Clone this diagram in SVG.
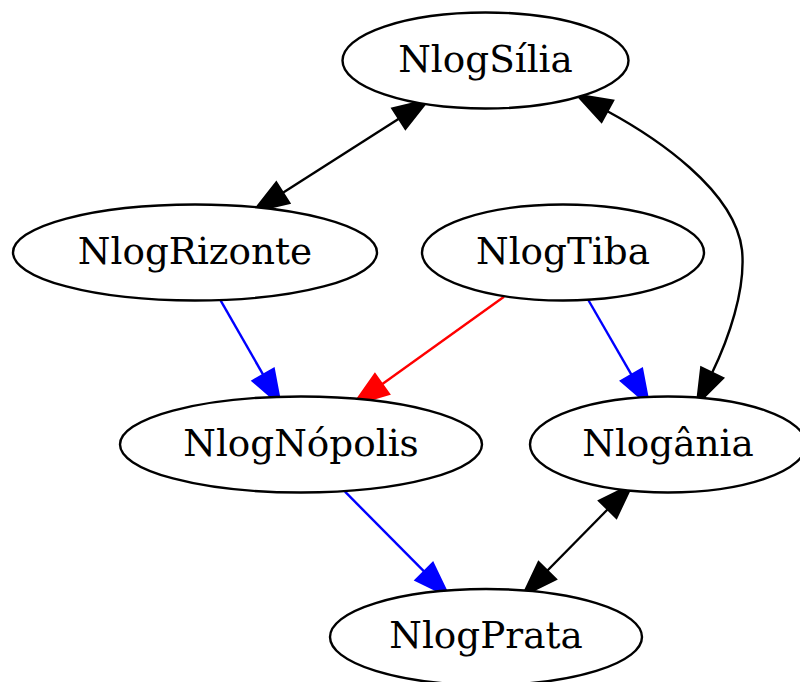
<svg xmlns="http://www.w3.org/2000/svg" width="800" height="682" viewBox="0 0 800 682">
<style>
.node ellipse{fill:#fff;stroke:#000;stroke-width:2.4}
.node text{font-family:"DejaVu Serif",serif;font-size:37.33px;text-anchor:middle;fill:#000}
.edge{fill:none;stroke-width:2.4}
.kk{stroke:#000;marker-start:url(#ak);marker-end:url(#ak)}
.b{stroke:#0000ff;marker-end:url(#ab)}
.r{stroke:#ff0000;marker-end:url(#ar)}
</style>
<defs>
<marker id="ak" markerUnits="userSpaceOnUse" orient="auto-start-reverse" refX="0" refY="0" markerWidth="40" markerHeight="40" viewBox="-2 -12 32 24" style="overflow:visible"><path d="M0,-9.3 L26.7,0 L0,9.3 Z" fill="#000" stroke="#000" stroke-width="2.4"/></marker>
<marker id="ab" markerUnits="userSpaceOnUse" orient="auto-start-reverse" refX="0" refY="0" markerWidth="40" markerHeight="40" viewBox="-2 -12 32 24" style="overflow:visible"><path d="M0,-9.3 L26.7,0 L0,9.3 Z" fill="#0000ff" stroke="#0000ff" stroke-width="2.4"/></marker>
<marker id="ar" markerUnits="userSpaceOnUse" orient="auto-start-reverse" refX="0" refY="0" markerWidth="40" markerHeight="40" viewBox="-2 -12 32 24" style="overflow:visible"><path d="M0,-9.3 L26.7,0 L0,9.3 Z" fill="#ff0000" stroke="#ff0000" stroke-width="2.4"/></marker>
</defs>
<rect width="800" height="682" fill="#fff"/>
<g id="edges">
<path class="edge kk" d="M399.2,118.4 L282.5,192.9"/>
<path class="edge kk" d="M607,111 C655,137 735,190 742,250 C746,290 728,340 712,373"/>
<path class="edge b" d="M220.7,300.7 L263.4,375.1"/>
<path class="edge r" d="M504,296.7 L381.7,384.4"/>
<path class="edge b" d="M588.3,300 L631.7,375.2"/>
<path class="edge b" d="M345,491.7 L424.5,571.8"/>
<path class="edge kk" d="M608,509 L547,571"/>
</g>
<g id="NlogSilia" class="node"><ellipse cx="485.5" cy="60.5" rx="143" ry="48"/><text x="485.5" y="71.5">NlogSília</text></g>
<g id="NlogRizonte" class="node"><ellipse cx="195" cy="252.5" rx="182" ry="48"/><text x="195" y="263.5">NlogRizonte</text></g>
<g id="NlogTiba" class="node"><ellipse cx="563" cy="252.5" rx="141" ry="48"/><text x="563" y="263.5">NlogTiba</text></g>
<g id="NlogNopolis" class="node"><ellipse cx="301" cy="444.5" rx="181" ry="48"/><text x="301" y="455.5">NlogNópolis</text></g>
<g id="Nlogania" class="node"><ellipse cx="668" cy="444.5" rx="138" ry="48"/><text x="668" y="455.5">Nlogânia</text></g>
<g id="NlogPrata" class="node"><ellipse cx="486" cy="637" rx="156" ry="48"/><text x="486" y="648">NlogPrata</text></g>
</svg>
